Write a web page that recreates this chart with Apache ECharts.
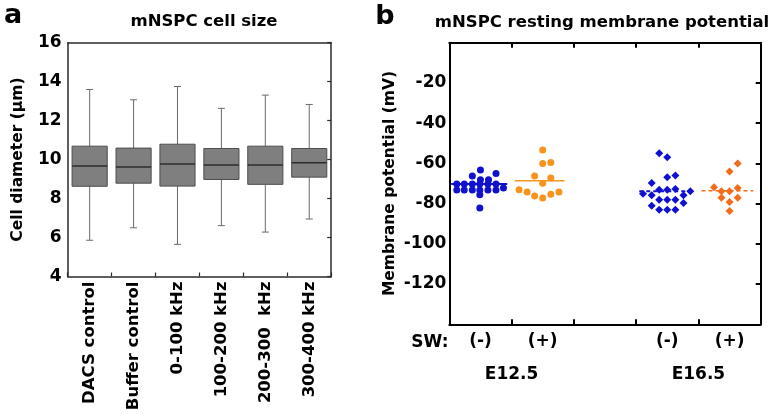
<!DOCTYPE html>
<html>
<head>
<meta charset="utf-8">
<script src="https://cdn.jsdelivr.net/npm/echarts@6/dist/echarts.min.js"></script>
<style>html,body{margin:0;padding:0;background:#fff}#c{width:776px;height:416px}</style>
</head>
<body>
<div id="c"></div>
<script>
// ---------- Panel a: box plot data ----------
const categories = ['DACS control', 'Buffer control', '0-100 kHz', '100-200 kHz', '200-300  kHz', '300-400 kHz'];
const whiskerLow  = [5.86, 6.50, 5.65, 6.61, 6.28, 6.95];
const boxQ1       = [8.63, 8.79, 8.64, 8.98, 8.73, 9.10];
const boxMedian   = [9.67, 9.62, 9.77, 9.72, 9.72, 9.84];
const boxQ3       = [10.69, 10.59, 10.79, 10.57, 10.69, 10.57];
const whiskerHigh = [13.60, 13.07, 13.75, 12.63, 13.31, 12.83];
const yTicksA = [4, 6, 8, 10, 12, 14, 16];

// ---------- Panel b: scatter data ----------
const swLabels = ['(-)', '(+)', '', '(-)', '(+)'];
const stageNames = ['E12.5', 'E16.5'];
const stagePositions = [1, 4];
const yTicksB = [-120, -100, -80, -60, -40, -20];

const e125NegX = [0.50, 0.37, 0.75, 0.50, 0.63, 0.12, 0.24, 0.37, 0.49, 0.62, 0.75, 0.12, 0.24, 0.37, 0.49, 0.62, 0.75, 0.87, 0.49, 0.49];
const e125NegY = [-63.3, -66.3, -65.0, -68.1, -68.1, -70.2, -70.2, -70.2, -70.2, -70.2, -70.2, -73.2, -73.2, -73.2, -73.2, -73.2, -73.2, -72.2, -75.6, -82.2];

const e125PosX = [1.50, 1.50, 1.63, 1.37, 1.63, 1.50, 1.12, 1.25, 1.37, 1.50, 1.63, 1.76];
const e125PosY = [-53.3, -60.1, -59.5, -66.3, -67.3, -69.9, -73.1, -74.2, -76.2, -77.2, -75.4, -74.2];

const e165NegX = [3.37, 3.50, 3.50, 3.63, 3.25, 3.11, 3.25, 3.37, 3.50, 3.63, 3.76, 3.87, 3.37, 3.50, 3.63, 3.25, 3.76, 3.37, 3.50, 3.63];
const e165NegY = [-55.0, -57.0, -66.9, -66.0, -69.8, -75.1, -75.9, -73.1, -73.1, -72.7, -75.9, -73.9, -78.1, -78.1, -78.1, -81.0, -79.7, -83.0, -83.0, -83.0];

const e165PosX = [4.63, 4.50, 4.25, 4.37, 4.50, 4.63, 4.37, 4.63, 4.50, 4.50];
const e165PosY = [-60.0, -64.0, -71.9, -73.9, -73.9, -72.2, -77.1, -77.1, -79.2, -83.7];

const groupMeans = [-70.2, -68.6, -73.9, -73.6];
const meanStart  = [0.03, 1.05, 3.05, 4.05];
const meanEnd    = [0.93, 1.85, 3.90, 4.88];

// ---------- styling ----------
const FONT = 'DejaVu Sans';
const BLUE = '#1010cf';
const ORANGE1 = '#f7941f';
const ORANGE2 = '#f26d1b';

const chart = echarts.init(document.getElementById('c'), null, {renderer: 'canvas'});

function zip(xs, ys) { return xs.map((x, i) => [x, ys[i]]); }

const boxData = categories.map((c, i) => [i, whiskerLow[i], boxQ1[i], boxMedian[i], boxQ3[i], whiskerHigh[i]]);

function renderBox(params, api) {
  const i = api.value(0);
  const lo = api.coord([i, api.value(1)]);
  const q1 = api.coord([i, api.value(2)]);
  const md = api.coord([i, api.value(3)]);
  const q3 = api.coord([i, api.value(4)]);
  const hi = api.coord([i, api.value(5)]);
  const band = api.size([1, 0])[0];
  const bw = band * 0.8, cw = band * 0.16;
  const x = lo[0];
  const wStyle = {stroke: '#6a6a6a', lineWidth: 1};
  return {
    type: 'group',
    children: [
      {type: 'line', shape: {x1: x, y1: hi[1], x2: x, y2: q3[1]}, style: wStyle},
      {type: 'line', shape: {x1: x, y1: q1[1], x2: x, y2: lo[1]}, style: wStyle},
      {type: 'line', shape: {x1: x - cw / 2, y1: hi[1], x2: x + cw / 2, y2: hi[1]}, style: wStyle},
      {type: 'line', shape: {x1: x - cw / 2, y1: lo[1], x2: x + cw / 2, y2: lo[1]}, style: wStyle},
      {type: 'rect', shape: {x: x - bw / 2, y: q3[1], width: bw, height: q1[1] - q3[1]},
        style: {fill: '#7f7f7f', stroke: '#4e4e4e', lineWidth: 1}},
      {type: 'line', shape: {x1: x - bw / 2, y1: md[1], x2: x + bw / 2, y2: md[1]},
        style: {stroke: '#2c2c2c', lineWidth: 1.5}}
    ]
  };
}

const labelBold = (size) => ({fontFamily: FONT, fontWeight: 'bold', fontSize: size, color: '#000'});
const lineA = {show: true, onZero: false, lineStyle: {color: '#2a2a2a', width: 1.5}};
const lineB = {show: true, onZero: false, lineStyle: {color: '#000', width: 2}};
const hiddenLine = {show: false, onZero: false};

const meanSeries = groupMeans.map((m, i) => ({
  type: 'line',
  xAxisIndex: 2, yAxisIndex: 2,
  data: [[meanStart[i], m], [meanEnd[i], m]],
  showSymbol: false, symbol: 'none', silent: true, z: 2,
  lineStyle: {
    color: i % 2 === 0 ? BLUE : (i === 1 ? ORANGE1 : ORANGE2),
    width: i % 2 === 0 ? 2 : 1.6,
    type: i >= 2 ? [4, 3] : 'solid'
  }
}));

const option = {
  animation: false,
  backgroundColor: '#fff',
  grid: [
    {left: 67.7, top: 42.7, width: 263.5, height: 233.8},
    {left: 449.3, top: 42.7, width: 311.4, height: 281.6}
  ],
  xAxis: [
    {type: 'category', gridIndex: 0, data: categories, position: 'bottom',
      axisLine: lineA, axisTick: {show: true, inside: true, length: 4, lineStyle: {color: '#2a2a2a', width: 1.2}},
      axisLabel: Object.assign({rotate: 90, margin: 5, interval: 0}, labelBold(16.5)), splitLine: {show: false}},
    {type: 'category', gridIndex: 0, data: categories, position: 'top',
      axisLine: lineA, axisTick: {show: false}, axisLabel: {show: false}, splitLine: {show: false}},
    {type: 'value', gridIndex: 1, min: 0, max: 5, interval: 1, position: 'bottom',
      axisLine: lineB, axisTick: {show: true, inside: true, length: 5, lineStyle: {color: '#000', width: 2}},
      axisLabel: {show: false}, splitLine: {show: false}},
    {type: 'value', gridIndex: 1, min: 0, max: 5, interval: 1, position: 'top',
      axisLine: lineB, axisTick: {show: true, inside: true, length: 5, lineStyle: {color: '#000', width: 2}},
      axisLabel: {show: false}, splitLine: {show: false}},
    {type: 'category', gridIndex: 1, data: swLabels, position: 'bottom',
      axisLine: hiddenLine, axisTick: {show: false},
      axisLabel: Object.assign({margin: 9, interval: 0}, labelBold(17)), splitLine: {show: false}},
    {type: 'value', gridIndex: 1, min: 0, max: 5, interval: 1, position: 'bottom', offset: 34,
      axisLine: hiddenLine, axisTick: {show: false}, splitLine: {show: false},
      axisLabel: Object.assign({margin: 8, formatter: (v) => {
        const k = stagePositions.indexOf(v); return k >= 0 ? stageNames[k] : '';
      }}, labelBold(17))}
  ],
  yAxis: [
    {type: 'value', gridIndex: 0, min: 4, max: 16, interval: 2, position: 'left',
      axisLine: lineA, axisTick: {show: false}, splitLine: {show: false},
      axisLabel: Object.assign({margin: 6, formatter: (v) => yTicksA.includes(v) ? String(v) : ''}, labelBold(17)),
      name: 'Cell diameter (µm)', nameLocation: 'middle', nameRotate: 90, nameGap: 42,
      nameTextStyle: labelBold(15.5)},
    {type: 'value', gridIndex: 0, min: 4, max: 16, interval: 2, position: 'right',
      axisLine: lineA, axisTick: {show: true, inside: true, length: 4, lineStyle: {color: '#2a2a2a', width: 1.2}},
      axisLabel: {show: false}, splitLine: {show: false}},
    {type: 'value', gridIndex: 1, min: -140, max: 0, interval: 20, position: 'left',
      axisLine: lineB, axisTick: {show: false}, splitLine: {show: false},
      axisLabel: Object.assign({margin: 3, formatter: (v) => yTicksB.includes(v) ? String(v) : ''}, labelBold(17)),
      name: 'Membrane potential (mV)', nameLocation: 'middle', nameRotate: 90, nameGap: 51,
      nameTextStyle: labelBold(15.5)},
    {type: 'value', gridIndex: 1, min: -140, max: 0, interval: 20, position: 'right',
      axisLine: lineB, axisTick: {show: true, inside: true, length: 5, lineStyle: {color: '#000', width: 2}},
      axisLabel: {show: false}, splitLine: {show: false}}
  ],
  series: [
    {type: 'custom', xAxisIndex: 0, yAxisIndex: 0, renderItem: renderBox,
      encode: {x: 0, y: [1, 2, 3, 4, 5]}, data: boxData, z: 3}
  ].concat(meanSeries).concat([
    {type: 'scatter', xAxisIndex: 2, yAxisIndex: 2, data: zip(e125NegX, e125NegY),
      symbol: 'circle', symbolSize: 7, itemStyle: {color: BLUE, opacity: 1}, z: 5},
    {type: 'scatter', xAxisIndex: 2, yAxisIndex: 2, data: zip(e125PosX, e125PosY),
      symbol: 'circle', symbolSize: 7, itemStyle: {color: ORANGE1, opacity: 1}, z: 5},
    {type: 'scatter', xAxisIndex: 2, yAxisIndex: 2, data: zip(e165NegX, e165NegY),
      symbol: 'diamond', symbolSize: 8, itemStyle: {color: BLUE, opacity: 1}, z: 5},
    {type: 'scatter', xAxisIndex: 2, yAxisIndex: 2, data: zip(e165PosX, e165PosY),
      symbol: 'diamond', symbolSize: 8, itemStyle: {color: ORANGE2, opacity: 1}, z: 5}
  ]),
  graphic: [
    {type: 'text', x: 13, y: 16, style: {text: 'a', textAlign: 'center', textVerticalAlign: 'middle', fill: '#000', font: 'bold 27px "DejaVu Sans"'}},
    {type: 'text', x: 385, y: 17, style: {text: 'b', textAlign: 'center', textVerticalAlign: 'middle', fill: '#000', font: 'bold 27px "DejaVu Sans"'}},
    {type: 'text', x: 204, y: 22, style: {text: 'mNSPC cell size', textAlign: 'center', textVerticalAlign: 'middle', fill: '#000', font: 'bold 16.5px "DejaVu Sans"'}},
    {type: 'text', x: 602, y: 23, style: {text: 'mNSPC resting membrane potential', textAlign: 'center', textVerticalAlign: 'middle', fill: '#000', font: 'bold 16.5px "DejaVu Sans"'}},
    {type: 'text', x: 430, y: 343, style: {text: 'SW:', textAlign: 'center', textVerticalAlign: 'middle', fill: '#000', font: 'bold 17px "DejaVu Sans"'}}
  ]
};
chart.setOption(option);
</script>
</body>
</html>
